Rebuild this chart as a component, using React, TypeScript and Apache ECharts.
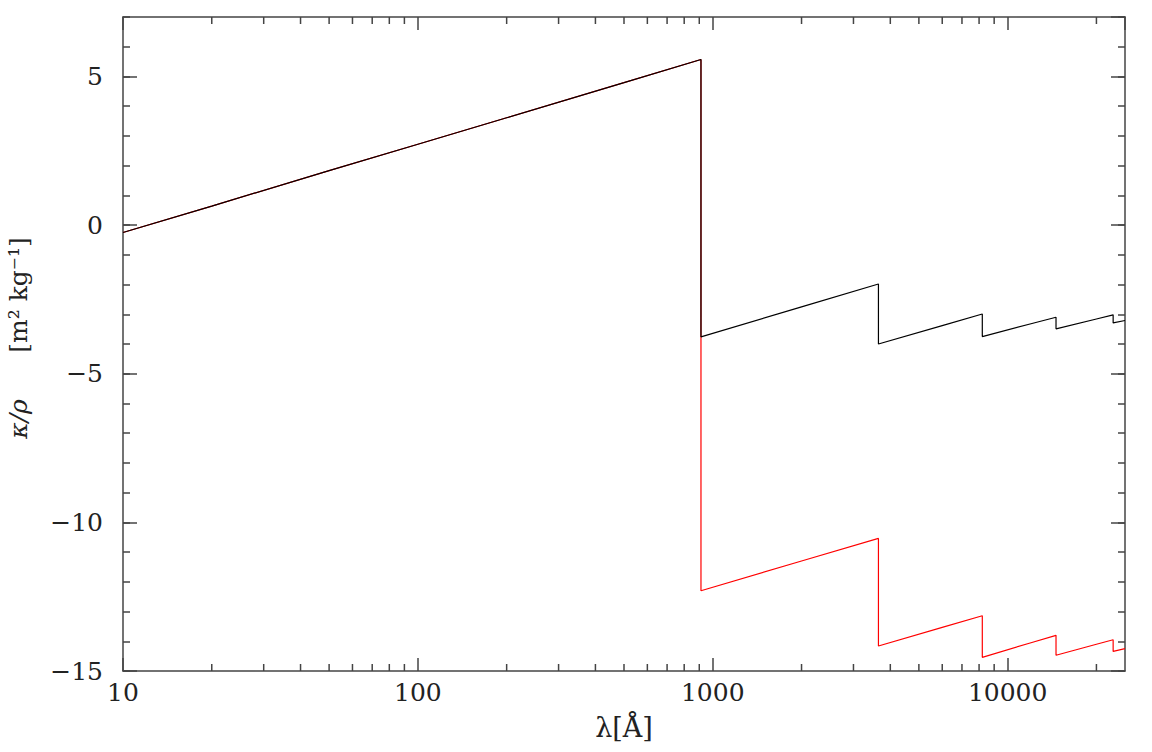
import { useEffect, useRef } from 'react';
import * as echarts from 'echarts';

// wavelength in Å, log10 of opacity in m² kg⁻¹
const blackWave = [10, 20, 50, 100, 200, 500, 912, 912, 2000, 3646, 3646, 6000, 8204, 8204, 12000, 14588, 14588, 20000, 22790, 22790, 25000];
const blackVal = [-0.25, 0.64, 1.83, 2.72, 3.61, 4.79, 5.57, -3.76, -2.75, -1.98, -4.0, -3.38, -2.99, -3.75, -3.32, -3.1, -3.49, -3.16, -3.02, -3.29, -3.21];

const redWave = [10, 20, 50, 100, 200, 500, 912, 912, 2000, 3646, 3646, 6000, 8204, 8204, 12000, 14588, 14588, 20000, 22790, 22790, 25000];
const redVal = [-0.25, 0.64, 1.83, 2.72, 3.61, 4.79, 5.57, -12.3, -11.3, -10.54, -14.16, -13.53, -13.14, -14.54, -14.05, -13.8, -14.47, -14.1, -13.95, -14.34, -14.25];

// minor ticks of the log axis
const minorWave = [20, 30, 40, 50, 60, 70, 80, 90, 200, 300, 400, 500, 600, 700, 800, 900, 2000, 3000, 4000, 5000, 6000, 7000, 8000, 9000, 20000];

const X_MIN = 10;
const X_MAX = 25000;
const Y_MIN = -15;
const Y_MAX = 7;

const FONT = '"DejaVu Serif", serif';
const AXIS_COLOR = '#444';

export default function App() {
  const chartRef = useRef<HTMLDivElement>(null);

  useEffect(() => {
    if (!chartRef.current) return;
    const chart = echarts.init(chartRef.current, null, { renderer: 'svg' });

    const fmtY = (v: number) => (v < 0 ? '\u2212' + Math.abs(v) : String(v));
    const lineStyle = { color: AXIS_COLOR, width: 1.5 };

    const yBase = (position: 'left' | 'right', major: boolean, labels: boolean) => ({
      type: 'value' as const,
      position,
      min: Y_MIN,
      max: Y_MAX,
      interval: major ? 5 : 1,
      axisLine: { show: major, onZero: false, lineStyle },
      axisTick: { show: true, inside: true, length: major ? 14 : 7, lineStyle },
      axisLabel: {
        show: labels,
        margin: 20,
        showMaxLabel: false,
        formatter: fmtY,
        fontFamily: FONT,
        fontSize: 25,
        color: '#222',
      },
      splitLine: { show: false },
    });

    const xBase = (position: 'bottom' | 'top', labels: boolean) => ({
      type: 'log' as const,
      logBase: 10,
      min: X_MIN,
      max: X_MAX,
      position,
      axisLine: { show: true, onZero: false, lineStyle },
      axisTick: { show: true, inside: true, length: 13, lineStyle },
      axisLabel: {
        show: labels,
        margin: 9,
        showMaxLabel: false,
        formatter: (v: number) => String(Math.round(v)),
        fontFamily: FONT,
        fontSize: 25,
        color: '#222',
      },
      splitLine: { show: false },
    });

    const option: echarts.EChartsOption = {
      animation: false,
      backgroundColor: '#fff',
      grid: { left: 123, right: 27, top: 17, bottom: 81 },
      xAxis: [xBase('bottom', true), xBase('top', false)],
      yAxis: [
        yBase('left', true, true),
        yBase('left', false, false),
        yBase('right', true, false),
        yBase('right', false, false),
      ],
      graphic: [
        {
          type: 'text',
          x: 18,
          y: 419,
          rotation: Math.PI / 2,
          style: {
            text: 'κ/ρ',
            fontFamily: FONT,
            fontStyle: 'italic',
            fontSize: 25,
            fill: '#222',
            textAlign: 'center',
            textVerticalAlign: 'middle',
          },
        },
        {
          type: 'text',
          x: 18,
          y: 295,
          rotation: Math.PI / 2,
          style: {
            text: '[m² kg⁻¹]',
            fontFamily: FONT,
            fontSize: 25,
            fill: '#222',
            textAlign: 'center',
            textVerticalAlign: 'middle',
          },
        },
        {
          type: 'text',
          x: 624,
          y: 727,
          style: {
            text: 'λ[Å]',
            fontFamily: FONT,
            fontSize: 27,
            fill: '#222',
            textAlign: 'center',
            textVerticalAlign: 'middle',
          },
        },
      ],
      series: [
        {
          type: 'custom',
          xAxisIndex: 0,
          yAxisIndex: 0,
          silent: true,
          data: minorWave.map((w) => [w]),
          encode: { x: 0 },
          renderItem: (_params: any, api: any) => {
            const v = api.value(0);
            const b = api.coord([v, Y_MIN]);
            const t = api.coord([v, Y_MAX]);
            const style = { stroke: AXIS_COLOR, lineWidth: 1.5 };
            return {
              type: 'group',
              children: [
                { type: 'line', shape: { x1: b[0], y1: b[1], x2: b[0], y2: b[1] - 7 }, style },
                { type: 'line', shape: { x1: t[0], y1: t[1], x2: t[0], y2: t[1] + 7 }, style },
              ],
            };
          },
        },
        {
          type: 'line',
          xAxisIndex: 0,
          yAxisIndex: 0,
          showSymbol: false,
          symbol: 'none',
          lineStyle: { color: '#ff0000', width: 1.2 },
          data: redWave.map((w, i) => [w, redVal[i]]),
        },
        {
          type: 'line',
          xAxisIndex: 0,
          yAxisIndex: 0,
          showSymbol: false,
          symbol: 'none',
          lineStyle: { color: '#000', width: 1.2 },
          data: blackWave.map((w, i) => [w, blackVal[i]]),
        },
      ],
    };

    chart.setOption(option);
    return () => {
      chart.dispose();
    };
  }, []);

  return (
    <div
      ref={chartRef}
      style={{ position: 'absolute', left: 0, top: 0, width: 1152, height: 752 }}
    />
  );
}
